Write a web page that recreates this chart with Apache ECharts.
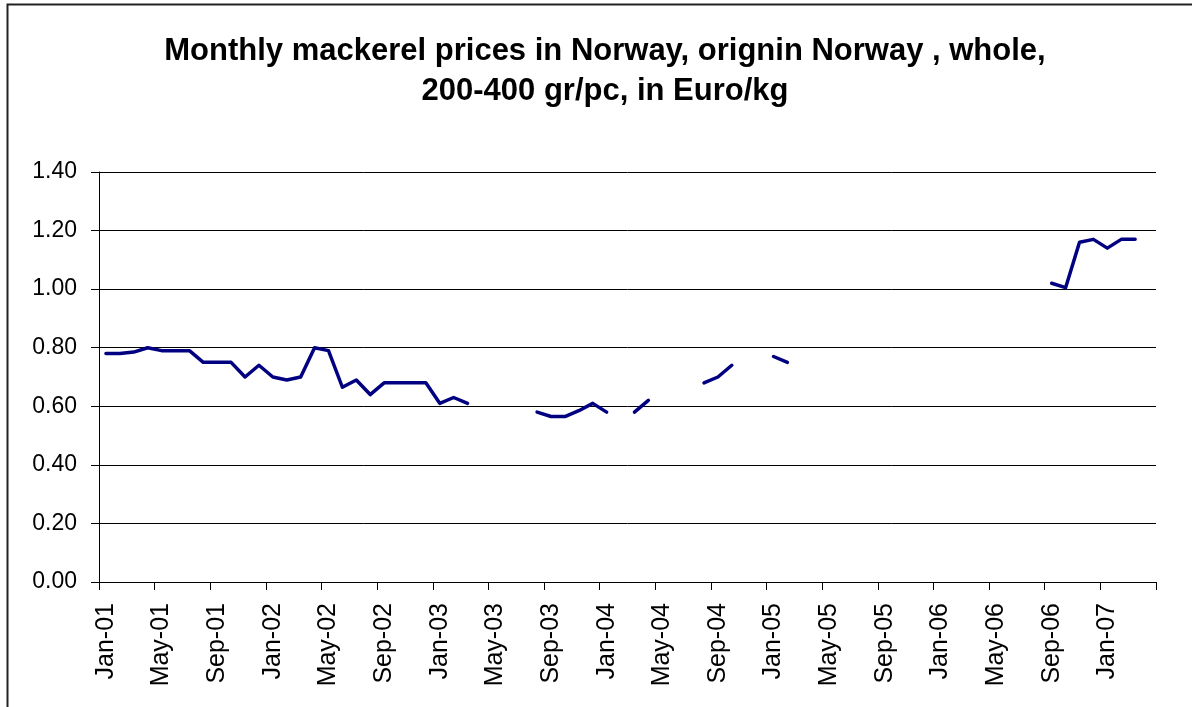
<!DOCTYPE html>
<html>
<head>
<meta charset="utf-8">
<title>Monthly mackerel prices in Norway</title>
<script src="https://cdn.jsdelivr.net/npm/echarts@6/dist/echarts.min.js"></script>
<style>
  html, body { margin: 0; padding: 0; background: #fff; }
  #main { width: 1192px; height: 707px; }
</style>
</head>
<body>
<div id="main"></div>
<script>
// month labels, Jan-01 .. Apr-07
var categories = [
  'Jan-01','Feb-01','Mar-01','Apr-01','May-01','Jun-01','Jul-01','Aug-01','Sep-01','Oct-01','Nov-01','Dec-01',
  'Jan-02','Feb-02','Mar-02','Apr-02','May-02','Jun-02','Jul-02','Aug-02','Sep-02','Oct-02','Nov-02','Dec-02',
  'Jan-03','Feb-03','Mar-03','Apr-03','May-03','Jun-03','Jul-03','Aug-03','Sep-03','Oct-03','Nov-03','Dec-03',
  'Jan-04','Feb-04','Mar-04','Apr-04','May-04','Jun-04','Jul-04','Aug-04','Sep-04','Oct-04','Nov-04','Dec-04',
  'Jan-05','Feb-05','Mar-05','Apr-05','May-05','Jun-05','Jul-05','Aug-05','Sep-05','Oct-05','Nov-05','Dec-05',
  'Jan-06','Feb-06','Mar-06','Apr-06','May-06','Jun-06','Jul-06','Aug-06','Sep-06','Oct-06','Nov-06','Dec-06',
  'Jan-07','Feb-07','Mar-07','Apr-07'
];

// price in Euro/kg, null = no quote that month
var price2001 = [0.78, 0.78, 0.785, 0.80, 0.79, 0.79, 0.79, 0.75, 0.75, 0.75, 0.70, 0.74];
var price2002 = [0.70, 0.69, 0.70, 0.80, 0.79, 0.665, 0.69, 0.64, 0.68, 0.68, 0.68, 0.68];
var price2003 = [0.61, 0.63, 0.61, null, null, null, null, 0.58, 0.565, 0.565, 0.585, 0.61];
var price2004 = [0.58, null, 0.58, 0.62, null, null, null, 0.68, 0.70, 0.74, null, null];
var price2005 = [0.77, 0.75, null, null, null, null, null, null, null, null, null, null];
var price2006 = [null, null, null, null, null, null, null, null, 1.02, 1.005, 1.16, 1.17];
var price2007 = [1.14, 1.17, 1.17, null];

var yTicks = [0, 0.2, 0.4, 0.6, 0.8, 1.0, 1.2, 1.4];

var prices = [].concat(price2001, price2002, price2003, price2004, price2005, price2006, price2007);

var font = '"Liberation Sans", Arial, sans-serif';

var myChart = echarts.init(document.getElementById('main'));

var option = {
  animation: false,
  backgroundColor: '#fff',
  title: {
    text: 'Monthly mackerel prices in Norway, orignin Norway , whole,\n200-400 gr/pc, in Euro/kg',
    left: 600,
    top: 26,
    textAlign: 'center',
    textStyle: {
      fontFamily: font,
      fontWeight: 'bold',
      fontSize: 31,
      lineHeight: 40,
      color: '#000'
    }
  },
  graphic: [{
    type: 'rect',
    shape: { x: 7.5, y: 4.5, width: 1200, height: 720 },
    style: { fill: 'none', stroke: '#222', lineWidth: 2 },
    silent: true
  }],
  grid: {
    left: 99,
    right: 36,
    top: 172,
    bottom: 125,
    containLabel: false
  },
  xAxis: {
    type: 'category',
    data: categories,
    boundaryGap: true,
    axisLine: { lineStyle: { color: '#000', width: 1 } },
    axisTick: { show: true, interval: 3, length: 8, lineStyle: { color: '#000' } },
    axisLabel: {
      interval: 3,
      rotate: 90,
      margin: 21,
      fontFamily: font,
      fontSize: 25,
      color: '#000'
    },
    splitLine: { show: false }
  },
  yAxis: {
    type: 'value',
    min: yTicks[0],
    max: yTicks[yTicks.length - 1],
    interval: 0.2,
    axisLine: { show: true, lineStyle: { color: '#000', width: 1 } },
    axisTick: { show: true, length: 8, lineStyle: { color: '#000' } },
    axisLabel: {
      margin: 22,
      fontFamily: font,
      fontSize: 23,
      color: '#000',
      formatter: function (v) { return v.toFixed(2); }
    },
    splitLine: { show: true, lineStyle: { color: '#000', width: 1 } }
  },
  series: [{
    name: 'Price',
    type: 'line',
    data: prices,
    connectNulls: false,
    showSymbol: false,
    symbol: 'none',
    lineStyle: { color: '#000080', width: 3.5, join: 'round', cap: 'round' }
  }]
};

myChart.setOption(option);
</script>
</body>
</html>
